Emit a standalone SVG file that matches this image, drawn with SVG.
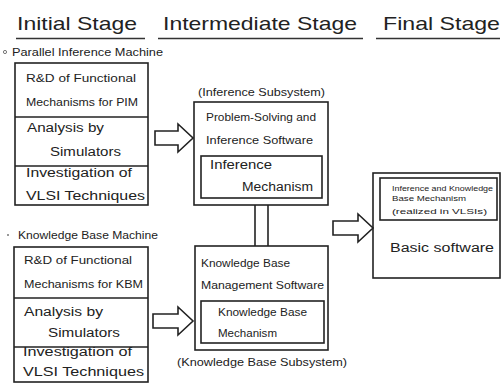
<svg xmlns="http://www.w3.org/2000/svg" width="503" height="383" viewBox="0 0 503 383">
<style>
text{font-family:"Liberation Sans","DejaVu Sans",sans-serif;fill:#222}
.h{font-size:19px}
.s{font-size:11px}
.m{font-size:12px}
.b{fill:none;stroke:#222;stroke-width:1.6}
.a{fill:#fff;stroke:#222;stroke-width:1.6;stroke-linejoin:miter}
</style>
<rect width="503" height="383" fill="#fff"/>
<g id="headers">
<text class="h" x="17" y="30" textLength="120" lengthAdjust="spacingAndGlyphs">Initial Stage</text>
<text class="h" x="163" y="30" textLength="194" lengthAdjust="spacingAndGlyphs">Intermediate Stage</text>
<text class="h" x="383" y="30" textLength="117" lengthAdjust="spacingAndGlyphs">Final Stage</text>
<g stroke="#333" stroke-width="1.6">
<line x1="16" y1="38.5" x2="145" y2="38.5"/>
<line x1="158" y1="38.5" x2="363" y2="38.5"/>
<line x1="376" y1="38.5" x2="500" y2="38.5"/>
</g>
</g>
<g id="pim">
<circle cx="5" cy="52" r="1.6" fill="none" stroke="#555" stroke-width="0.8"/>
<text class="s" x="12" y="56" textLength="151" lengthAdjust="spacingAndGlyphs">Parallel Inference Machine</text>
<rect class="b" x="15" y="63" width="133" height="142"/>
<line class="b" x1="15" y1="117" x2="148" y2="117"/>
<line class="b" x1="15" y1="166" x2="148" y2="166"/>
<text class="s" x="26" y="82" textLength="110" lengthAdjust="spacingAndGlyphs">R&amp;D of Functional</text>
<text class="s" x="26" y="106" textLength="112" lengthAdjust="spacingAndGlyphs">Mechanisms for PIM</text>
<text class="m" x="27" y="132" textLength="77" lengthAdjust="spacingAndGlyphs">Analysis by</text>
<text class="m" x="50" y="156" textLength="71" lengthAdjust="spacingAndGlyphs">Simulators</text>
<text class="m" x="26" y="177" textLength="106" lengthAdjust="spacingAndGlyphs">Investigation of</text>
<text class="m" x="26" y="200" textLength="119" lengthAdjust="spacingAndGlyphs">VLSI Techniques</text>
</g>
<g id="kbm">
<circle cx="8" cy="235" r="1" fill="#777"/>
<text class="s" x="18" y="239" textLength="140" lengthAdjust="spacingAndGlyphs">Knowledge Base Machine</text>
<rect class="b" x="14" y="247" width="134" height="135"/>
<line class="b" x1="14" y1="298" x2="148" y2="298"/>
<line class="b" x1="14" y1="347" x2="148" y2="347"/>
<text class="s" x="24" y="264" textLength="108" lengthAdjust="spacingAndGlyphs">R&amp;D of Functional</text>
<text class="s" x="24" y="288" textLength="119" lengthAdjust="spacingAndGlyphs">Mechanisms for KBM</text>
<text class="m" x="24" y="316" textLength="79" lengthAdjust="spacingAndGlyphs">Analysis by</text>
<text class="m" x="48" y="337" textLength="72" lengthAdjust="spacingAndGlyphs">Simulators</text>
<text class="m" x="23" y="356" textLength="109" lengthAdjust="spacingAndGlyphs">Investigation of</text>
<text class="m" x="23" y="376" textLength="121" lengthAdjust="spacingAndGlyphs">VLSI Techniques</text>
</g>
<g id="inference-subsystem">
<text class="s" x="198" y="96" textLength="127" lengthAdjust="spacingAndGlyphs">(Inference Subsystem)</text>
<rect class="b" x="194" y="102" width="134" height="103"/>
<text class="s" x="206" y="121" textLength="110" lengthAdjust="spacingAndGlyphs">Problem-Solving and</text>
<text class="s" x="206" y="144" textLength="107" lengthAdjust="spacingAndGlyphs">Inference Software</text>
<rect class="b" x="201" y="156" width="121" height="42"/>
<text class="m" x="210" y="169" textLength="62" lengthAdjust="spacingAndGlyphs">Inference</text>
<text class="m" x="242" y="191" textLength="71" lengthAdjust="spacingAndGlyphs">Mechanism</text>
</g>
<g id="kb-subsystem">
<rect class="b" x="195" y="246" width="133" height="104"/>
<text class="s" x="201" y="267" textLength="89" lengthAdjust="spacingAndGlyphs">Knowledge Base</text>
<text class="s" x="201" y="289" textLength="123" lengthAdjust="spacingAndGlyphs">Management Software</text>
<rect class="b" x="201" y="301" width="123" height="42"/>
<text class="s" x="218" y="316" textLength="89" lengthAdjust="spacingAndGlyphs">Knowledge Base</text>
<text class="s" x="218" y="337" textLength="59" lengthAdjust="spacingAndGlyphs">Mechanism</text>
<text class="s" x="177" y="366" textLength="170" lengthAdjust="spacingAndGlyphs">(Knowledge Base Subsystem)</text>
</g>
<g id="final">
<rect class="b" x="373" y="173" width="127" height="105"/>
<rect class="b" x="380" y="178" width="117" height="42"/>
<text x="392" y="191" font-size="8" textLength="101" lengthAdjust="spacingAndGlyphs">Inference and Knowledge</text>
<text x="392" y="201" font-size="8" textLength="74" lengthAdjust="spacingAndGlyphs">Base Mechanism</text>
<text x="392" y="214" font-size="8" textLength="95" lengthAdjust="spacingAndGlyphs">(realized in VLSIs)</text>
<text class="m" x="390" y="252" textLength="104" lengthAdjust="spacingAndGlyphs">Basic software</text>
</g>
<g id="connectors">
<path class="a" d="M155,131 H178 V124 L193,138 L178,152 V145 H155 Z"/>
<path class="a" d="M153,314 H178 V307 L193,321 L178,335 V328 H153 Z"/>
<path class="a" d="M333,221 H358 V214 L373,228 L358,242 V235 H333 Z"/>
<line class="b" x1="255" y1="205" x2="255" y2="246"/>
<line class="b" x1="268" y1="205" x2="268" y2="246"/>
</g>
</svg>
